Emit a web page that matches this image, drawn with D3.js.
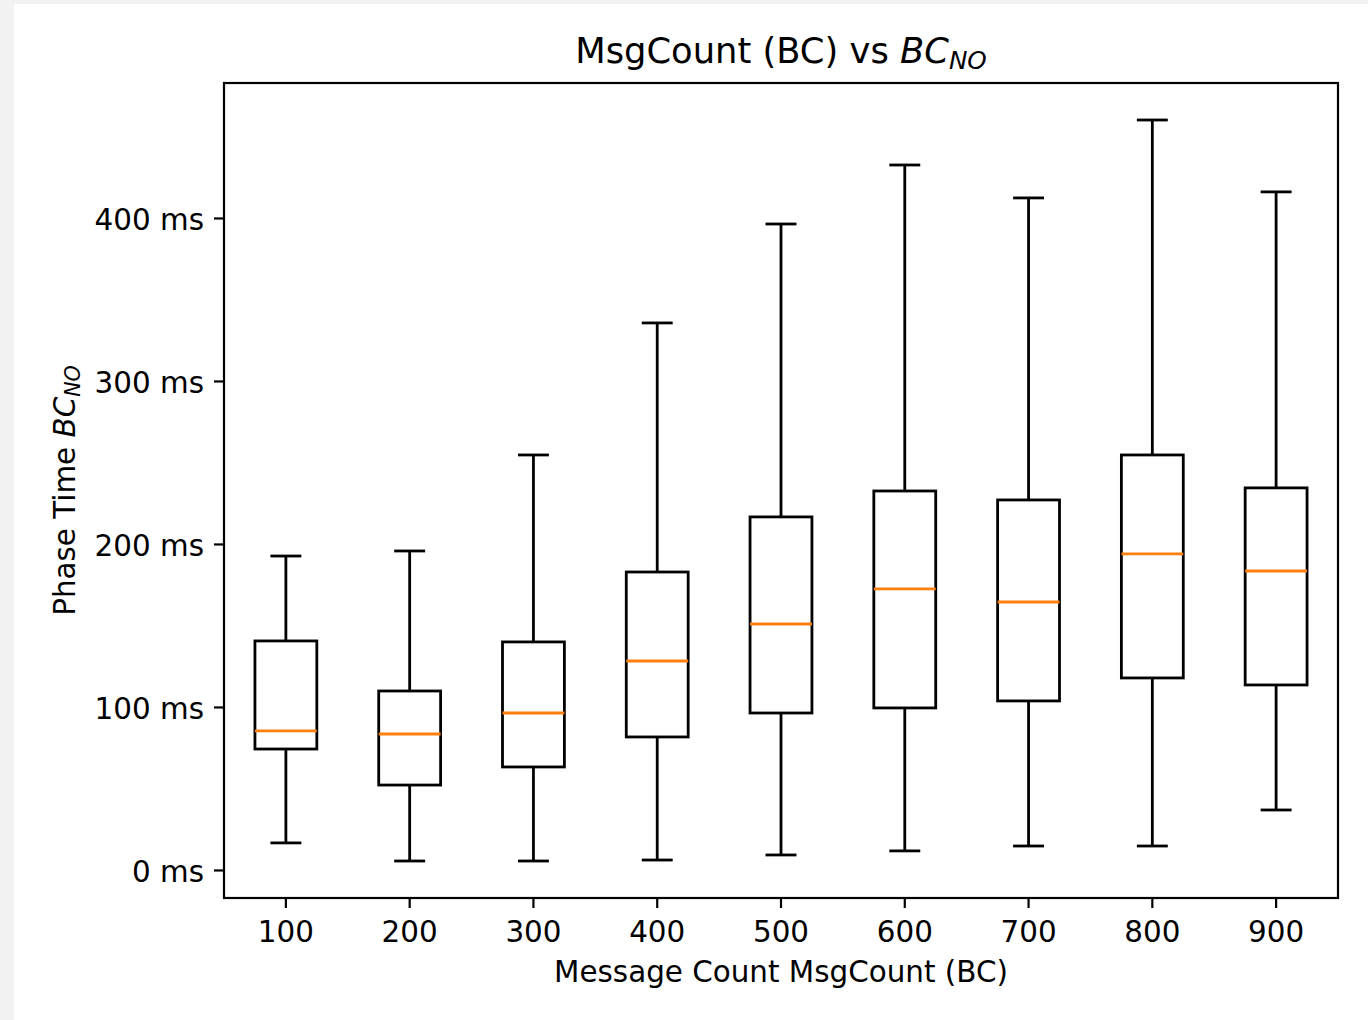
<!DOCTYPE html>
<html>
<head>
<meta charset="utf-8">
<script src="https://cdn.jsdelivr.net/npm/d3@7"></script>
<style>
  body { margin: 0; background: #f2f2f2; }
  svg { display: block; }
  text { font-family: "DejaVu Sans", sans-serif; fill: #000; }
</style>
</head>
<body>
<svg id="chart" width="1368" height="1020"></svg>
<script>
// message counts (x categories)
var categories = ["100", "200", "300", "400", "500", "600", "700", "800", "900"];
// box stats in ms
var whiskerLow  = [16.6, 5.5, 5.5, 6.1, 9.2, 11.7, 14.7, 14.7, 36.8];
var q1          = [74.2, 52.1, 63.2, 81.6, 96.3, 99.4, 103.7, 117.8, 113.5];
var median      = [85.3, 83.4, 96.3, 128.2, 150.9, 172.4, 164.4, 193.9, 183.4];
var q3          = [140.5, 109.8, 139.9, 182.8, 216.6, 232.5, 227.0, 254.6, 234.4];
var whiskerHigh = [192.6, 195.7, 254.6, 335.6, 396.3, 432.5, 412.3, 460.1, 416.0];
var yTicks = [0, 100, 200, 300, 400];

var svg = d3.select("#chart");

// white figure area
svg.append("rect").attr("x", 14).attr("y", 4).attr("width", 1354).attr("height", 1016).attr("fill", "#fff");

var plotL = 224, plotR = 1338, plotT = 83, plotB = 898;

var x = d3.scaleBand().domain(categories).range([plotL, plotR]).paddingInner(0).paddingOuter(0);
var y = d3.scaleLinear().domain([-17.2, 482.8]).range([plotB, plotT]);

var boxes = categories.map(function (c, i) {
  return { cat: c, lo: whiskerLow[i], q1: q1[i], med: median[i], q3: q3[i], hi: whiskerHigh[i] };
});

var bw = x.bandwidth();
var g = svg.append("g");

var box = g.selectAll("g.box").data(boxes).enter().append("g")
  .attr("class", "box")
  .attr("transform", function (d) { return "translate(" + (x(d.cat) + bw / 2) + ",0)"; });

// whiskers
box.append("line").attr("x1", 0).attr("x2", 0)
  .attr("y1", function (d) { return y(d.q3); }).attr("y2", function (d) { return y(d.hi); })
  .attr("stroke", "#000").attr("stroke-width", 2.8);
box.append("line").attr("x1", 0).attr("x2", 0)
  .attr("y1", function (d) { return y(d.q1); }).attr("y2", function (d) { return y(d.lo); })
  .attr("stroke", "#000").attr("stroke-width", 2.8);
// caps
box.append("line").attr("x1", -bw / 8).attr("x2", bw / 8)
  .attr("y1", function (d) { return y(d.hi); }).attr("y2", function (d) { return y(d.hi); })
  .attr("stroke", "#000").attr("stroke-width", 2.8);
box.append("line").attr("x1", -bw / 8).attr("x2", bw / 8)
  .attr("y1", function (d) { return y(d.lo); }).attr("y2", function (d) { return y(d.lo); })
  .attr("stroke", "#000").attr("stroke-width", 2.8);
// boxes
box.append("rect").attr("x", -bw / 4).attr("width", bw / 2)
  .attr("y", function (d) { return y(d.q3); })
  .attr("height", function (d) { return y(d.q1) - y(d.q3); })
  .attr("fill", "none").attr("stroke", "#000").attr("stroke-width", 2.8);
// medians
box.append("line").attr("x1", -bw / 4).attr("x2", bw / 4)
  .attr("y1", function (d) { return y(d.med); }).attr("y2", function (d) { return y(d.med); })
  .attr("stroke", "#ff7f0e").attr("stroke-width", 2.8);

// axes
var xAxis = svg.append("g").attr("transform", "translate(0," + plotB + ")")
  .call(d3.axisBottom(x).tickSize(10).tickPadding(13));
var yAxis = svg.append("g").attr("transform", "translate(" + plotL + ",0)")
  .call(d3.axisLeft(y).tickValues(yTicks).tickSize(10).tickPadding(10)
    .tickFormat(function (d) { return d + " ms"; }));

[xAxis, yAxis].forEach(function (a) {
  a.select(".domain").remove();
  a.selectAll(".tick line").attr("stroke", "#000").attr("stroke-width", 2.2);
  a.selectAll(".tick text").style("font-size", "29.4px").style("font-family", "DejaVu Sans");
});
yAxis.selectAll(".tick text").attr("dy", "0.39em");

// frame
svg.append("rect").attr("x", plotL).attr("y", plotT).attr("width", plotR - plotL).attr("height", plotB - plotT)
  .attr("fill", "none").attr("stroke", "#000").attr("stroke-width", 2.2);

// title
var title = svg.append("text").attr("x", (plotL + plotR) / 2).attr("y", 63)
  .attr("text-anchor", "middle").style("font-size", "35.3px");
title.append("tspan").text("MsgCount (BC) vs ");
title.append("tspan").style("font-style", "italic").text("BC");
title.append("tspan").style("font-style", "italic").style("font-size", "24.7px").attr("dy", 6).text("NO");

// x label
svg.append("text").attr("x", (plotL + plotR) / 2).attr("y", 982)
  .attr("text-anchor", "middle").style("font-size", "29.4px")
  .text("Message Count MsgCount (BC)");

// y label
var ylab = svg.append("text").attr("transform", "translate(75," + ((plotT + plotB) / 2) + ") rotate(-90)")
  .attr("text-anchor", "middle").style("font-size", "29.4px");
ylab.append("tspan").text("Phase Time ");
ylab.append("tspan").style("font-style", "italic").text("BC");
ylab.append("tspan").style("font-style", "italic").style("font-size", "20.6px").attr("dy", 5).text("NO");
</script>
</body>
</html>
